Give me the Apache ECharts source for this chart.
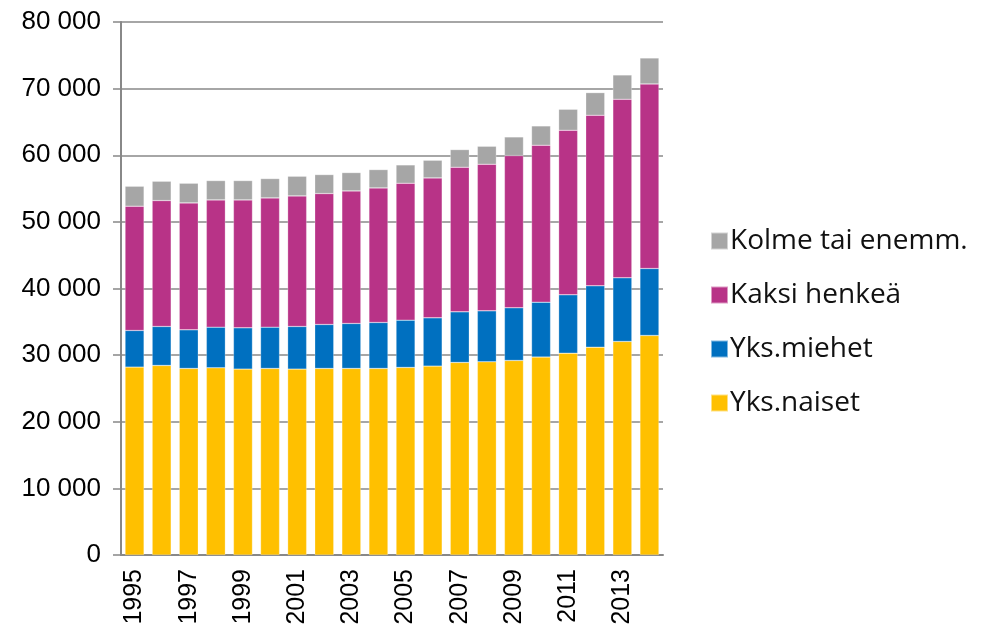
<!DOCTYPE html>
<head>
    <meta charset="utf-8">
    <title>ECharts</title>
    <script src="https://cdn.jsdelivr.net/npm/echarts@6/dist/echarts.min.js"></script>
    <style>body{margin:0}</style>
</head>
<body>
    <div id="main" style="width:984px;height:630px"></div>
    <script type="text/javascript">
        var years = ['1995','1996','1997','1998','1999','2000','2001','2002','2003','2004',
                     '2005','2006','2007','2008','2009','2010','2011','2012','2013','2014'];
        var yksNaiset = [28200,28450,28000,28100,27900,28000,27900,28000,28000,28000,
                         28150,28350,28900,29000,29200,29700,30300,31200,32050,32950];
        var yksMiehet = [5500,5850,5800,6100,6200,6200,6400,6600,6750,6900,
                         7100,7250,7600,7650,7900,8250,8750,9200,9550,10050];
        var kaksiHenkea = [18650,18900,19050,19100,19200,19400,19600,19650,19900,20200,
                           20550,21000,21700,22000,22850,23550,24700,25600,26800,27700];
        var kolmeTai = [3000,2900,2950,2900,2900,2900,2950,2850,2750,2750,
                        2750,2650,2650,2700,2800,2900,3150,3400,3650,3900];
        var legendNames = ['Kolme tai enemm.', 'Kaksi henkeä', 'Yks.miehet', 'Yks.naiset'];

        var myChart = echarts.init(document.getElementById('main'));

        function bar(name, data, color) {
            return {
                name: name,
                type: 'bar',
                stack: 'total',
                barWidth: 19,
                itemStyle: {color: color, borderColor: 'rgba(255,255,255,0.5)', borderWidth: 0.5},
                data: data
            };
        }

        var option = {
            animation: false,
            textStyle: {fontFamily: 'Liberation Sans'},
            grid: {left: 121, right: 321, top: 22, bottom: 75},
            legend: {
                data: legendNames,
                orient: 'vertical',
                left: 705,
                top: 222,
                itemWidth: 17,
                itemHeight: 17,
                itemGap: 26,
                icon: 'rect',
                textStyle: {fontSize: 28, color: '#111', fontFamily: 'Open Sans', padding: [0, 0, 0, -3]}
            },
            xAxis: {
                type: 'category',
                data: years,
                axisLine: {lineStyle: {color: '#888', width: 2}},
                axisTick: {show: false},
                axisLabel: {
                    interval: 1,
                    rotate: 90,
                    fontSize: 25,
                    color: '#000',
                    margin: 14
                }
            },
            yAxis: {
                type: 'value',
                min: 0,
                max: 80000,
                interval: 10000,
                axisLine: {show: true, lineStyle: {color: '#888', width: 2}},
                axisTick: {show: true, inside: false, length: 8, lineStyle: {color: '#888', width: 1.5}},
                splitLine: {lineStyle: {color: '#888', width: 1.5}},
                axisLabel: {
                    fontSize: 26,
                    color: '#000',
                    margin: 20,
                    formatter: function (v) {
                        return String(v).replace(/\B(?=(\d{3})+(?!\d))/g, ' ');
                    }
                }
            },
            series: [
                bar('Yks.naiset', yksNaiset, '#FFC000'),
                bar('Yks.miehet', yksMiehet, '#0070C0'),
                bar('Kaksi henkeä', kaksiHenkea, '#B83387'),
                bar('Kolme tai enemm.', kolmeTai, '#A6A6A6')
            ]
        };

        myChart.setOption(option);
    </script>
</body>
